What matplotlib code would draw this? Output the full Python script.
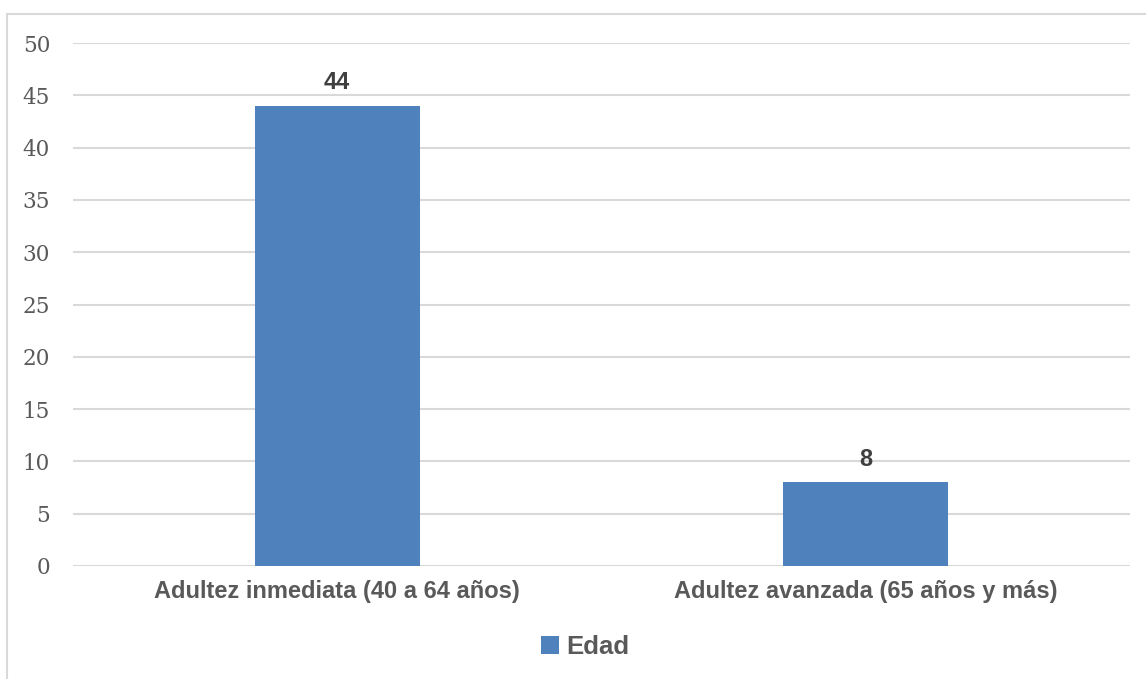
import matplotlib.pyplot as plt
import matplotlib.patches as patches
import numpy as np

categories = ["Adultez inmediata (40 a 64 años)", "Adultez avanzada (65 años y más)"]
values = [44, 8]
series_name = "Edad"
y_ticks = [0, 5, 10, 15, 20, 25, 30, 35, 40, 45, 50]

BAR_COLOR = "#4f81bd"
GRID_COLOR = "#d9d9d9"
TEXT_COLOR = "#595959"

fig = plt.figure(figsize=(11.46, 6.79), dpi=100)
ax = fig.add_axes([73 / 1146, 1 - 566 / 679, (1130 - 73) / 1146, (566 - 43) / 679])

# chart frame, open on the right and bottom
fig.patches.append(patches.Rectangle((7 / 1146, -0.1), 1.2, 1 - 14 / 679 + 0.1,
                                     transform=fig.transFigure, fill=False,
                                     edgecolor=GRID_COLOR, linewidth=1.5))

x = np.arange(len(categories))
bars = ax.bar(x, values, width=0.312, color=BAR_COLOR, label=series_name, zorder=3)

for xi, v in zip(x, values):
    ax.text(xi, v + 1.1, f"{v}", ha="center", va="bottom", fontsize=17,
            fontweight="bold", color="#404040", family="Liberation Sans")

ax.set_xlim(-0.5, len(categories) - 0.5)
ax.set_ylim(0, 50)
ax.set_yticks(y_ticks)
ax.set_yticklabels([str(t) for t in y_ticks], family="DejaVu Serif",
                   fontsize=15.5, color=TEXT_COLOR)
ax.set_xticks(x)
ax.set_xticklabels(categories, family="Liberation Sans", fontsize=17,
                   fontweight="bold", color=TEXT_COLOR)
ax.tick_params(axis="both", length=0)
ax.tick_params(axis="y", pad=16.5)
ax.tick_params(axis="x", pad=10)

ax.grid(axis="y", color=GRID_COLOR, linewidth=1.5, zorder=0)
for s in ax.spines.values():
    s.set_visible(False)

leg = fig.legend(handles=[bars], labels=[series_name], loc="center",
                 bbox_to_anchor=(585 / 1146, 1 - 647 / 679), frameon=False,
                 prop={"family": "Liberation Sans", "weight": "bold", "size": 18.5},
                 handlelength=0.7, handleheight=0.7, handletextpad=0.3)
for t in leg.get_texts():
    t.set_color(TEXT_COLOR)

fig.savefig("out.png", dpi=100)
